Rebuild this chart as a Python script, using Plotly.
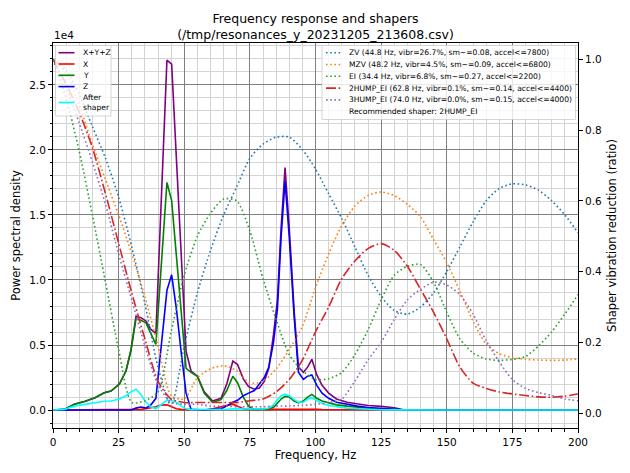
import plotly.graph_objects as go

# ---------------- data (PSD in units of 1e4) ----------------
PSD_FREQS = [0, 4.3, 8.1, 12.0, 16.0, 19.5, 22.1, 25.3, 27.8, 29.7,
             31.6, 33.5, 35.4, 37.3, 39.2, 41.1, 43.4, 45.2, 47.0, 48.8,
             50.7, 52.6, 55.0, 57.6, 60.8, 64.0, 66.2, 68.5, 70.3, 72.5,
             74.5, 76.7, 78.6, 80.5, 82.2, 84.0, 85.5, 86.9, 88.4, 90.0,
             91.9, 93.5, 95.4, 97.0, 98.6, 100.5, 102.5, 105.0, 108.0, 112.0,
             116.0, 120.0, 125.0, 130.0, 134.0, 140.0, 150.0, 160.0, 170.0, 180.0,
             190.0, 200.0]

PSD_SUM = [0, 0.005, 0.044, 0.065, 0.095, 0.133, 0.146, 0.20, 0.30, 0.46,
           0.72, 0.71, 0.685, 0.62, 0.59, 1.54, 2.69, 2.66, 1.93, 1.20,
           0.45, 0.30, 0.26, 0.14, 0.07, 0.09, 0.20, 0.377, 0.35, 0.24,
           0.18, 0.16, 0.17, 0.22, 0.32, 0.58, 0.85, 1.40, 1.864, 1.40,
           0.75, 0.33, 0.29, 0.33, 0.39, 0.27, 0.19, 0.13, 0.085, 0.06,
           0.045, 0.035, 0.028, 0.018, 0, 0, 0, 0, 0, 0,
           0, 0]

PSD_X = [0, 0, 0, 0, 0, 0, 0, 0, 0, 0,
         0.003, 0.005, 0.01, 0.015, 0.025, 0.038, 0.04, 0.025, 0.01, 0.005,
         0.003, 0, 0, 0, 0.01, 0.025, 0.035, 0.045, 0.03, 0.01,
         0.005, 0.003, 0.003, 0.003, 0.003, 0.005, 0.005, 0.008, 0.01, 0.008,
         0.005, 0.005, 0.005, 0.005, 0.005, 0.005, 0.004, 0.004, 0.003, 0.003,
         0.002, 0.002, 0.002, 0.001, 0, 0, 0, 0, 0, 0,
         0, 0]

PSD_Y = [0, 0.005, 0.044, 0.065, 0.095, 0.133, 0.146, 0.20, 0.30, 0.46,
         0.70, 0.69, 0.67, 0.59, 0.505, 1.07, 1.75, 1.61, 1.20, 0.79,
         0.32, 0.29, 0.26, 0.13, 0.06, 0.08, 0.15, 0.26, 0.21, 0.10,
         0.03, 0.005, 0.005, 0.005, 0.01, 0.02, 0.05, 0.085, 0.105, 0.10,
         0.07, 0.055, 0.07, 0.10, 0.12, 0.09, 0.07, 0.055, 0.04, 0.03,
         0.02, 0.015, 0.01, 0.005, 0, 0, 0, 0, 0, 0,
         0, 0]

PSD_Z = [0, 0, 0, 0, 0, 0, 0, 0, 0, 0,
         0.015, 0.023, 0.015, 0.04, 0.09, 0.47, 0.92, 1.04, 0.78, 0.45,
         0.13, 0.005, 0, 0, 0.005, 0.01, 0.03, 0.06, 0.075, 0.11,
         0.13, 0.15, 0.20, 0.25, 0.33, 0.52, 0.78, 1.33, 1.76, 1.33,
         0.71, 0.29, 0.236, 0.26, 0.27, 0.19, 0.13, 0.09, 0.06, 0.044,
         0.03, 0.02, 0.01, 0.005, 0, 0, 0, 0, 0, 0,
         0, 0]

PSD_AFTER = [0, 0.005, 0.03, 0.045, 0.06, 0.068, 0.07, 0.085, 0.11, 0.14,
             0.16, 0.12, 0.06, 0.025, 0.01, 0.04, 0.075, 0.075, 0.06, 0.03,
             0.01, 0.003, 0.003, 0.003, 0.003, 0.004, 0.006, 0.01, 0.01, 0.008,
             0.006, 0.005, 0.006, 0.008, 0.015, 0.04, 0.08, 0.11, 0.12, 0.11,
             0.08, 0.06, 0.06, 0.085, 0.095, 0.07, 0.05, 0.035, 0.025, 0.015,
             0.01, 0.005, 0.002, 0.001, 0, 0, 0, 0, 0, 0,
             0, 0]

SHAPER_FREQS = [0, 5, 10, 15, 20, 25, 30, 35, 40, 45,
                50, 55, 60, 65, 70, 75, 80, 85, 90, 95,
                100, 105, 110, 115, 120, 125, 130, 135, 140, 145,
                150, 155, 160, 165, 170, 175, 180, 185, 190, 195,
                200]

ZV = [1.0, 0.97, 0.90, 0.81, 0.72, 0.61, 0.47, 0.31, 0.13, 0.02,
      0.19, 0.34, 0.46, 0.56, 0.64, 0.72, 0.76, 0.78, 0.78, 0.745,
      0.69, 0.62, 0.55, 0.47, 0.39, 0.33, 0.29, 0.28, 0.30, 0.34,
      0.40, 0.47, 0.54, 0.60, 0.635, 0.648, 0.645, 0.63, 0.60, 0.56,
      0.51]

MZV = [1.0, 0.96, 0.87, 0.76, 0.66, 0.56, 0.45, 0.33, 0.19, 0.05,
       0.04, 0.10, 0.125, 0.134, 0.12, 0.085, 0.09, 0.125, 0.18, 0.245,
       0.355, 0.45, 0.53, 0.585, 0.615, 0.625, 0.615, 0.59, 0.555, 0.49,
       0.425, 0.345, 0.26, 0.195, 0.168, 0.157, 0.152, 0.15, 0.149, 0.15,
       0.153]

EI = [1.0, 0.89, 0.74, 0.56, 0.37, 0.18, 0.03, 0.035, 0.06, 0.23,
      0.39, 0.50, 0.565, 0.605, 0.60, 0.515, 0.38, 0.265, 0.165, 0.12,
      0.095, 0.097, 0.115, 0.165, 0.235, 0.32, 0.39, 0.415, 0.42, 0.37,
      0.285, 0.21, 0.17, 0.153, 0.149, 0.152, 0.16, 0.19, 0.23, 0.28,
      0.335]

HUMP2_EI = [1.0, 0.93, 0.85, 0.75, 0.62, 0.48, 0.34, 0.21, 0.09, 0.04,
            0.03, 0.03, 0.03, 0.03, 0.03, 0.035, 0.04, 0.06, 0.095, 0.15,
            0.23, 0.30, 0.38, 0.43, 0.465, 0.479, 0.46, 0.415, 0.35, 0.285,
            0.21, 0.13, 0.085, 0.07, 0.06, 0.054, 0.05, 0.046, 0.045, 0.048,
            0.054]

HUMP3_EI = [1.0, 0.92, 0.82, 0.71, 0.59, 0.45, 0.32, 0.19, 0.08, 0.03,
            0.025, 0.025, 0.02, 0.02, 0.018, 0.018, 0.018, 0.02, 0.02, 0.022,
            0.025, 0.03, 0.04, 0.09, 0.15, 0.20, 0.265, 0.32, 0.35, 0.37,
            0.362, 0.335, 0.28, 0.205, 0.145, 0.095, 0.07, 0.058, 0.05, 0.04,
            0.035]

PSD_SERIES = [("X+Y+Z", PSD_SUM, "purple"), ("X", PSD_X, "red"),
              ("Y", PSD_Y, "green"), ("Z", PSD_Z, "blue")]
AFTER_LABEL = "After<br>shaper"

SHAPER_SERIES = [
    ("ZV (44.8 Hz, vibr=26.7%, sm~=0.08, accel<=7800)", ZV, "#1f77b4", "dot"),
    ("MZV (48.2 Hz, vibr=4.5%, sm~=0.09, accel<=6800)", MZV, "#ff7f0e", "dot"),
    ("EI (34.4 Hz, vibr=6.8%, sm~=0.27, accel<=2200)", EI, "#2ca02c", "dot"),
    ("2HUMP_EI (62.8 Hz, vibr=0.1%, sm~=0.14, accel<=4400)", HUMP2_EI, "#d62728", "dashdot"),
    ("3HUMP_EI (74.0 Hz, vibr=0.0%, sm~=0.15, accel<=4000)", HUMP3_EI, "#9467bd", "dot"),
]
RECOMMENDED = "Recommended shaper: 2HUMP_EI"

TITLE = "Frequency response and shapers<br>(/tmp/resonances_y_20231205_213608.csv)"

# ---------------- styling ----------------
FONT = "DejaVu Sans"
W, H = 630, 473
PL, PR, PT, PB = 53, 578, 43, 428
LW = 1.6
LEG_FS = 7.6
DASH = {"dot": "1.6px,2.6px", "dashdot": "10px,2.6px,1.6px,2.6px"}


def fx(x):
    return (x - PL) / (PR - PL)


def fy(y):
    return (PB - y) / (PB - PT)


fig = go.Figure()
for name, vals, color in PSD_SERIES:
    fig.add_trace(go.Scatter(x=PSD_FREQS, y=vals, mode="lines", name=name,
                             line=dict(color=color, width=LW), showlegend=False))
fig.add_trace(go.Scatter(x=PSD_FREQS, y=PSD_AFTER, mode="lines", name="After shaper",
                         line=dict(color="cyan", width=LW), showlegend=False))
for name, vals, color, style in SHAPER_SERIES:
    fig.add_trace(go.Scatter(x=SHAPER_FREQS, y=vals, mode="lines", name=name, yaxis="y2",
                             line=dict(color=color, width=LW, dash=DASH[style],
                                       shape="spline", smoothing=0.7),
                             showlegend=False))

shapes = []
annotations = []
legfont = dict(family=FONT, size=LEG_FS, color="black")
# legend 1 (upper left)
shapes.append(dict(type="rect", xref="paper", yref="paper", layer="above",
                   x0=fx(55.5), x1=fx(111), y0=fy(116), y1=fy(45.5),
                   line=dict(color="#cccccc", width=0.8), fillcolor="rgba(255,255,255,0.8)"))
leg1_y = [52.7, 64.0, 75.3, 86.6]
for (name, _, color), yy in zip(PSD_SERIES, leg1_y):
    shapes.append(dict(type="line", xref="paper", yref="paper", layer="above",
                       x0=fx(58.5), x1=fx(74.5), y0=fy(yy), y1=fy(yy),
                       line=dict(color=color, width=LW)))
    annotations.append(dict(text=name, xref="paper", yref="paper", x=fx(80.5), y=fy(yy),
                            xanchor="left", yanchor="middle", showarrow=False, font=legfont))
shapes.append(dict(type="line", xref="paper", yref="paper", layer="above",
                   x0=fx(58.5), x1=fx(74.5), y0=fy(102.5), y1=fy(102.5),
                   line=dict(color="cyan", width=LW)))
annotations.append(dict(text=AFTER_LABEL, xref="paper", yref="paper", x=fx(80.5), y=fy(102),
                        xanchor="left", yanchor="middle", align="left", showarrow=False,
                        font=legfont))

# legend 2 (upper right)
shapes.append(dict(type="rect", xref="paper", yref="paper", layer="above",
                   x0=fx(322), x1=fx(575.5), y0=fy(119.5), y1=fy(45.5),
                   line=dict(color="#cccccc", width=0.8), fillcolor="rgba(255,255,255,0.8)"))
for i, (name, _, color, style) in enumerate(SHAPER_SERIES):
    yy = 52.7 + i * 11.8
    shapes.append(dict(type="line", xref="paper", yref="paper", layer="above",
                       x0=fx(326), x1=fx(341.5), y0=fy(yy), y1=fy(yy),
                       line=dict(color=color, width=LW, dash=DASH[style])))
    annotations.append(dict(text=name, xref="paper", yref="paper", x=fx(347), y=fy(yy),
                            xanchor="left", yanchor="middle", showarrow=False, font=legfont))
annotations.append(dict(text=RECOMMENDED, xref="paper", yref="paper", x=fx(347),
                        y=fy(52.7 + 5 * 11.8), xanchor="left", yanchor="middle",
                        showarrow=False, font=legfont))

# offset text
annotations.append(dict(text="1e4", xref="paper", yref="paper", x=fx(52), y=fy(35),
                        xanchor="left", yanchor="middle", showarrow=False,
                        font=dict(family=FONT, size=10.5, color="black")))

tickfont = dict(family=FONT, size=10.5, color="black")
titlefont = dict(family=FONT, size=11.5, color="black")

fig.update_layout(
    width=W, height=H,
    margin=dict(l=PL, r=W - PR, t=PT, b=H - PB, autoexpand=False),
    paper_bgcolor="white", plot_bgcolor="white",
    showlegend=False,
    font=dict(family=FONT, color="black"),
    title=dict(text=TITLE, x=0.5, xref="paper", xanchor="center",
               y=1 - 22.5 / H, yref="container", yanchor="middle",
               font=dict(family=FONT, size=12.5, color="black")),
    xaxis=dict(range=[0, 200], tick0=0, dtick=25, showgrid=True, gridcolor="#808080",
               gridwidth=0.9, zeroline=False, showline=True, linecolor="black",
               linewidth=1, mirror=True, ticks="outside", ticklen=4, tickcolor="black",
               tickfont=tickfont,
               title=dict(text="Frequency, Hz", font=titlefont, standoff=3),
               minor=dict(dtick=5, showgrid=True, gridcolor="#d3d3d3", gridwidth=0.9,
                          ticks="outside", ticklen=2.5, tickcolor="black")),
    yaxis=dict(range=[-0.138, 2.822], tick0=0, dtick=0.5, tickformat=".1f",
               showgrid=True, gridcolor="#808080", gridwidth=0.9, zeroline=False,
               showline=True, linecolor="black", linewidth=1, mirror=True,
               ticks="outside", ticklen=4, tickcolor="black", tickfont=tickfont,
               title=dict(text="Power spectral density", font=titlefont, standoff=6),
               minor=dict(dtick=0.1, showgrid=True, gridcolor="#d3d3d3", gridwidth=0.9,
                          ticks="outside", ticklen=2.5, tickcolor="black")),
    yaxis2=dict(range=[-0.042, 1.046], tick0=0, dtick=0.2, tickformat=".1f",
                overlaying="y", side="right", showgrid=False, zeroline=False,
                showline=True, linecolor="black", linewidth=1,
                ticks="outside", ticklen=4, tickcolor="black", tickfont=tickfont,
                title=dict(text="Shaper vibration reduction (ratio)", font=titlefont,
                           standoff=6)),
    shapes=shapes,
    annotations=annotations,
)

fig.write_html("out.html", config={"displayModeBar": False},
               post_script="document.body.style.margin='0';")
